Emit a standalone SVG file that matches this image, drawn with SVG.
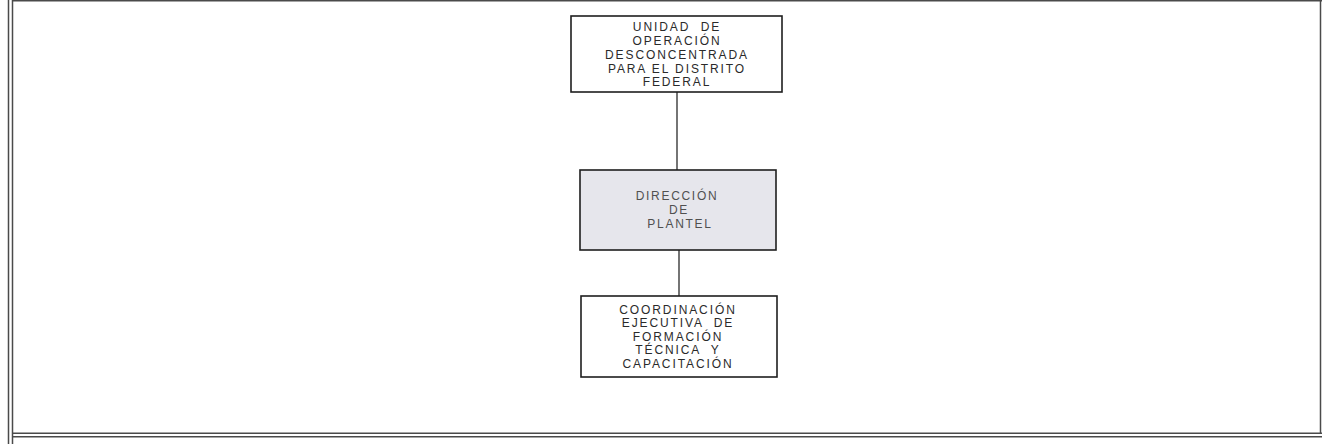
<svg xmlns="http://www.w3.org/2000/svg" width="1322" height="444" viewBox="0 0 1322 444">
<style>
.frame{stroke:#4a4a4a;stroke-width:1.5;fill:none}
.box{stroke:#1e1e1e;stroke-width:1.6;fill:#ffffff}
.box.gray{fill:#e6e6ec}
.conn{stroke:#2a2a2a;stroke-width:1.3;fill:none}
text{font-family:"Liberation Sans",Arial,sans-serif;font-size:12px;fill:#2a2a2a;text-anchor:middle;letter-spacing:1.9px;white-space:pre}
text.light{fill:#505050;letter-spacing:1.7px}
</style>
<rect x="0" y="0" width="1322" height="444" fill="#ffffff"/>
<g id="frame">
<line class="frame" x1="8.5" y1="0" x2="8.5" y2="444"/>
<line class="frame" x1="12.5" y1="0" x2="12.5" y2="444"/>
<line class="frame" x1="12" y1="0.7" x2="1322" y2="0.7"/>
<line class="frame" x1="1320.5" y1="0" x2="1320.5" y2="434"/>
<line class="frame" x1="12" y1="433.2" x2="1322" y2="433.2"/>
<line class="frame" x1="12" y1="436.8" x2="1322" y2="436.8"/>
</g>
<g id="connectors">
<line class="conn" x1="677" y1="92" x2="677" y2="170"/>
<line class="conn" x1="679" y1="250" x2="679" y2="296"/>
</g>
<g id="node-unidad">
<rect class="box" x="571" y="16" width="211" height="76"/>
<text x="677" y="30.5" xml:space="preserve">UNIDAD  DE</text>
<text x="677" y="45">OPERACIÓN</text>
<text x="677" y="59">DESCONCENTRADA</text>
<text x="677" y="72.5">PARA EL DISTRITO</text>
<text x="677" y="86">FEDERAL</text>
</g>
<g id="node-direccion">
<rect class="box gray" x="580" y="170" width="196" height="80"/>
<text class="light" x="677" y="200">DIRECCIÓN</text>
<text class="light" x="679" y="214">DE</text>
<text class="light" x="680" y="227.5">PLANTEL</text>
</g>
<g id="node-coordinacion">
<rect class="box" x="581" y="296" width="196" height="81"/>
<text x="678" y="313.5">COORDINACIÓN</text>
<text x="678" y="327" xml:space="preserve">EJECUTIVA  DE</text>
<text x="678" y="340.5">FORMACIÓN</text>
<text x="678" y="354" xml:space="preserve">TÉCNICA  Y</text>
<text x="678" y="367.5">CAPACITACIÓN</text>
</g>
</svg>
